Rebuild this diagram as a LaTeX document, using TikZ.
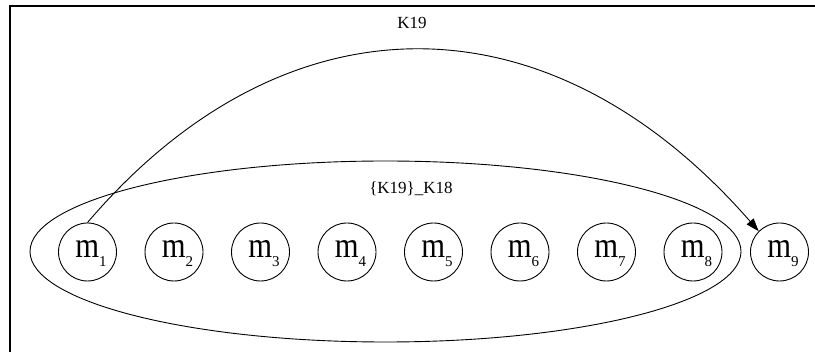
\documentclass[tikz,border=0pt]{standalone}
\usepackage{fontspec}
\usepackage{graphicx}
\setmainfont{Liberation Serif}
\usetikzlibrary{shapes.geometric,arrows.meta}
\newcommand\mlab[1]{\hspace{7pt}\scalebox{0.85}[1]{\fontsize{36}{40}\selectfont m}\raisebox{-9pt}{\fontsize{15}{16}\selectfont #1}}
\begin{document}
\begin{tikzpicture}[x=1pt,y=-1pt,
  mnode/.style={draw,circle,line width=0.9pt,minimum size=58pt,inner sep=0pt,text height=20pt,text depth=9pt},
  clus/.style={draw,ellipse,line width=0.9pt,minimum width=711pt,minimum height=181pt,inner sep=0pt},
  lbl/.style={font=\fontsize{17}{20}\selectfont,inner sep=0pt},
  edge/.style={line width=0.9pt,-{Triangle[length=13pt,width=9pt]}}]
\useasboundingbox (0,0) rectangle (815,352);
\draw[line width=2pt] (10,353) -- (10,5.7) -- (816,5.7);
\node[clus] (c) at (385.5,251.5) {};
\node[lbl] (cl) at (411,189) {\{K19\}\_K18};
\foreach \i in {1,...,9}{
  \node[mnode] (m\i) at ({87.5+86.5*(\i-1)},252) {\mlab{\i}};
}
\draw[edge] (m1.north) .. controls (285,-9) and (549,-9) .. (m9.north west);
\node[lbl] (el) at (412,23) {K19};
\end{tikzpicture}
\end{document}
